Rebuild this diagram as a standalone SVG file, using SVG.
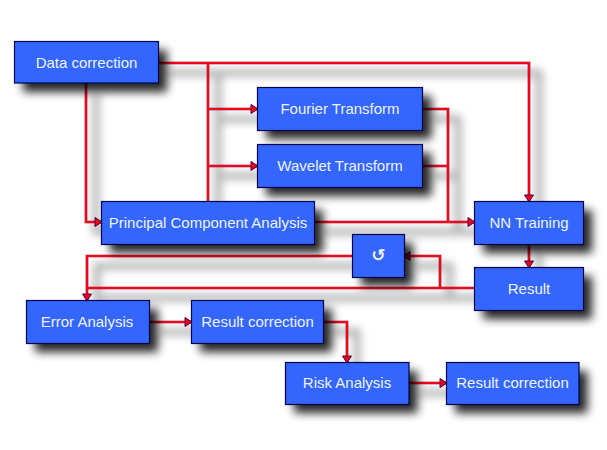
<svg xmlns="http://www.w3.org/2000/svg" width="607" height="450" viewBox="0 0 607 450">
<style>
.box{fill:#3366ff;stroke:#000050;stroke-width:1.2}
.sh{fill:#000;filter:url(#blur);opacity:.85}
.lbl{font-family:"Liberation Sans",Arial,sans-serif;font-size:15px;fill:#eef2ff;text-anchor:middle}
.under{fill:none;stroke:#600050;stroke-width:2.600}
.over{fill:none;stroke:#ff0010;stroke-width:2}
.lshadow{fill:none;stroke:#000;stroke-width:7;opacity:.3}
.ah{fill:#f00010;stroke:#500050;stroke-width:1}
</style>
<defs>
<filter id="blur" x="-30%" y="-50%" width="160%" height="200%"><feGaussianBlur stdDeviation="5"/></filter>
<filter id="lblur" filterUnits="userSpaceOnUse" x="0" y="0" width="607" height="450"><feGaussianBlur stdDeviation="4"/></filter>
<path id="routes" d="M158 63H529V201M86 83V222H101M208 63V201M208 109H257M208 166H257M422 109H448V222M422 166H448M314 222H474M529 244V267M474 288H87V300M440 288V256H404M352 256H87V300M149 322H191M323 322H347V362M409 383H446"/>
<path id="tri-r" d="M-6 -4.500L1 0L-6 4.500Z"/>
</defs>
<rect width="607" height="450" fill="#fff"/>
<g id="connector-shadows" transform="translate(10 10)" filter="url(#lblur)"><use href="#routes" class="lshadow"/></g>
<g id="connectors">
<use href="#routes" class="under"/>
<use href="#routes" class="over"/>
<use href="#tri-r" class="ah" transform="translate(101 222)"/>
<use href="#tri-r" class="ah" transform="translate(257 109)"/>
<use href="#tri-r" class="ah" transform="translate(257 166)"/>
<use href="#tri-r" class="ah" transform="translate(474 222)"/>
<use href="#tri-r" class="ah" transform="translate(191 322)"/>
<use href="#tri-r" class="ah" transform="translate(446 383)"/>
<use href="#tri-r" class="ah" transform="translate(529 201) rotate(90)"/>
<use href="#tri-r" class="ah" transform="translate(529 267) rotate(90)"/>
<use href="#tri-r" class="ah" transform="translate(87 300) rotate(90)"/>
<use href="#tri-r" class="ah" transform="translate(347 362) rotate(90)"/>
<use href="#tri-r" class="ah" transform="translate(404 256) rotate(180)"/>
</g>
<g id="data-correction"><rect class="sh" x="23" y="50" width="144" height="42"/><rect class="box" x="14.500" y="41.500" width="144" height="41.500"/><text class="lbl" x="86.500" y="67.500">Data correction</text></g>
<g id="fourier"><rect class="sh" x="266" y="96" width="165.500" height="43"/><rect class="box" x="257.500" y="87.500" width="165" height="43"/><text class="lbl" x="340" y="114">Fourier Transform</text></g>
<g id="wavelet"><rect class="sh" x="266" y="153" width="165.500" height="43"/><rect class="box" x="257.500" y="144.500" width="165" height="43"/><text class="lbl" x="340" y="171">Wavelet Transform</text></g>
<g id="pca"><rect class="sh" x="110" y="210" width="213" height="43"/><rect class="box" x="101.500" y="201.500" width="213" height="43"/><text class="lbl" x="208" y="228">Principal Component Analysis</text></g>
<g id="nn-training"><rect class="sh" x="483" y="210" width="109" height="43"/><rect class="box" x="474.500" y="201.500" width="109" height="43"/><text class="lbl" x="529" y="228">NN Training</text></g>
<g id="cycle"><rect class="sh" x="361" y="243" width="52" height="43"/><rect class="box" x="352.500" y="234.500" width="52" height="43"/><text class="lbl" style="font-family:'DejaVu Sans',sans-serif;font-size:17px;font-weight:bold" x="378.500" y="261">↺</text></g>
<g id="result"><rect class="sh" x="483" y="276" width="109" height="43"/><rect class="box" x="474.500" y="267.500" width="109" height="43"/><text class="lbl" x="529" y="294">Result</text></g>
<g id="error-analysis"><rect class="sh" x="35" y="309" width="123" height="43"/><rect class="box" x="26.500" y="300.500" width="123" height="43"/><text class="lbl" x="87" y="327">Error Analysis</text></g>
<g id="result-correction-1"><rect class="sh" x="200" y="309" width="132" height="43"/><rect class="box" x="191.500" y="300.500" width="132" height="43"/><text class="lbl" x="257.500" y="327">Result correction</text></g>
<g id="risk-analysis"><rect class="sh" x="294" y="371" width="123.500" height="42"/><rect class="box" x="285.500" y="362.500" width="123.500" height="42"/><text class="lbl" x="347" y="388">Risk Analysis</text></g>
<g id="result-correction-2"><rect class="sh" x="455" y="371" width="132.500" height="42"/><rect class="box" x="446.500" y="362.500" width="132.500" height="42"/><text class="lbl" x="512.500" y="388">Result correction</text></g>
</svg>
